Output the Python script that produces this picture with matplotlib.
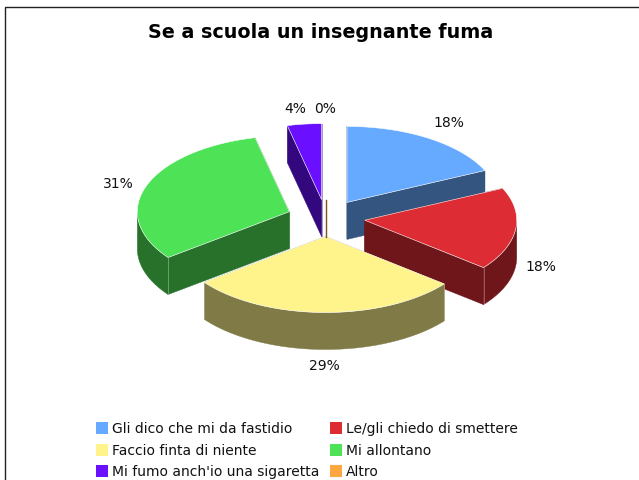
from matplotlib import pyplot as plt
from matplotlib.patches import Polygon, Rectangle
import numpy as np

title = "Se a scuola un insegnante fuma"
categories = ["Gli dico che mi da fastidio", "Le/gli chiedo di smettere",
              "Faccio finta di niente", "Mi allontano",
              "Mi fumo anch'io una sigaretta", "Altro"]
values = [18.0, 17.5, 28.8, 31.49, 3.6, 0.0]
percent_labels = ["18%", "18%", "29%", "31%", "4%", "0%"]
top_colors = ["#66AAFF", "#DD2C34", "#FFF48C", "#4EE257", "#6A0FFF", "#FFA640"]
side_colors = ["#33557F", "#6F161A", "#7F7A46", "#27712B", "#33087F", "#7F5320"]

# pie geometry, in image pixels
cx, cy = 326, 219
rx, ry = 152, 76
depth = 37
explode_x, explode_y = 39, 18.5
label_xy = [(449, 123), (541, 267), (324, 366), (118, 184), (295, 109), (325, 109)]
draw_order = [0, 5, 4, 3, 1, 2]

fig = plt.figure(figsize=(6.39, 4.81), dpi=100)
ax = fig.add_axes([0, 0, 1, 1])
ax.set_xlim(0, 639)
ax.set_ylim(481, 0)
ax.axis('off')

# frame runs off the right and bottom of the image
ax.add_patch(Rectangle((5.0, 7.5), 700, 600, fill=False, edgecolor='#222222', lw=1))

ends = np.cumsum(values) / np.sum(values) * 2 * np.pi
starts = ends - np.array(values) / np.sum(values) * 2 * np.pi

for i in draw_order:
    a0, a1 = starts[i], ends[i]
    mid = (a0 + a1) / 2
    ox = cx + explode_x * np.sin(mid)
    oy = cy - explode_y * np.cos(mid)
    t = np.linspace(a0, a1, 120)
    arc = np.column_stack([ox + rx * np.sin(t), oy - ry * np.cos(t)])
    apex = np.array([ox, oy])
    down = np.array([0, depth])

    if values[i] == 0:
        ax.plot([ox, ox], [oy, oy + depth], color=side_colors[i], lw=1)
        continue

    # walls first, the top face covers whatever faces away
    for p in (arc[0], arc[-1]):
        face = np.array([apex, p, p + down, apex + down])
        ax.add_patch(Polygon(face, facecolor=side_colors[i], edgecolor=side_colors[i], lw=0.3))
    front = arc[np.cos(t) < 0]
    if len(front) > 1:
        wall = np.vstack([front, (front + down)[::-1]])
        ax.add_patch(Polygon(wall, facecolor=side_colors[i], edgecolor=side_colors[i], lw=0.3))
    # pale line where a cut face meets the round wall
    for a, p in ((a0, arc[0]), (a1, arc[-1])):
        if np.cos(a) < 0:
            ax.plot([p[0], p[0]], [p[1], p[1] + depth], color='white', lw=0.5, alpha=0.4)
    top = np.vstack([apex, arc])
    ax.add_patch(Polygon(top, facecolor=top_colors[i], edgecolor='white', lw=0.4))

for (x, y), s in zip(label_xy, percent_labels):
    ax.text(x, y, s, ha='center', va='center', fontsize=10, color='#111111')

ax.text(320.5, 33, title, ha='center', va='center', fontsize=13.8,
        fontweight='bold', color='black')

# legend, two columns filled row by row
for i, name in enumerate(categories):
    col, row = i % 2, i // 2
    x = 96 + col * 234
    y = 429 + row * 21.7
    ax.add_patch(Rectangle((x, y - 6), 12, 12, facecolor=top_colors[i], edgecolor='none'))
    ax.text(x + 16, y, name, ha='left', va='center', fontsize=10, color='#111111')

plt.savefig('out.png', dpi=100)
